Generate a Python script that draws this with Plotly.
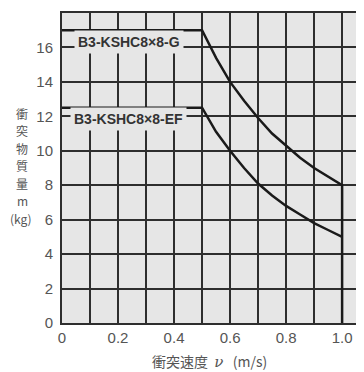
import plotly.graph_objects as go

# Data
g_v = [0.0, 0.5, 0.55, 0.6, 0.65, 0.7, 0.75, 0.8, 0.85, 0.9, 0.95, 1.0, 1.0]
g_m = [17.0, 17.0, 15.4, 14.0, 12.9, 11.9, 11.0, 10.3, 9.6, 9.0, 8.5, 8.0, 0.0]
ef_v = [0.0, 0.5, 0.55, 0.6, 0.65, 0.7, 0.75, 0.8, 0.85, 0.9, 0.95, 1.0]
ef_m = [12.5, 12.5, 11.1, 10.0, 9.0, 8.1, 7.4, 6.8, 6.3, 5.8, 5.4, 5.0]

x_ticks = [0, 0.2, 0.4, 0.6, 0.8, 1.0]
x_labels = ["0", "0.2", "0.4", "0.6", "0.8", "1.0"]
y_ticks = [0, 2, 4, 6, 8, 10, 12, 14, 16, 18]

label_g = "B3-KSHC8×8-G"
label_ef = "B3-KSHC8×8-EF"
y_title_chars = ["衝", "突", "物", "質", "量", "m", "(kg)"]
y_title_pos = [12.17, 11.15, 10.14, 9.12, 8.10, 7.09, 6.07]

BG = "#e6e6e6"
GRID = "#2e2e2e"
TXT = "#555555"
FONT = "Liberation Sans, Arial, sans-serif"
CJK = "Noto Sans CJK JP"

fig = go.Figure()
fig.add_trace(go.Scatter(x=g_v, y=g_m, mode="lines",
                         line=dict(color="#1a1a1a", width=2.5),
                         showlegend=False, hoverinfo="skip"))
fig.add_trace(go.Scatter(x=ef_v, y=ef_m, mode="lines",
                         line=dict(color="#1a1a1a", width=2.5),
                         showlegend=False, hoverinfo="skip"))

fig.add_annotation(x=0.239, y=16.3, text="<b>" + label_g + "</b>", showarrow=False,
                   font=dict(family=FONT, size=14, color="#333333"),
                   bgcolor=BG, borderpad=3, xanchor="center", yanchor="middle")
fig.add_annotation(x=0.238, y=11.85, text="<b>" + label_ef + "</b>", showarrow=False,
                   font=dict(family=FONT, size=14, color="#333333"),
                   bgcolor=BG, borderpad=3, xanchor="center", yanchor="middle")

fig.add_annotation(xref="paper", yref="paper", x=0.49, y=-0.1226,
                   text="衝突速度&nbsp;&nbsp;<i><span style='font-family:DejaVu Serif;font-size:15px'>ν</span></i>&nbsp;&nbsp;&nbsp;(m/s)",
                   showarrow=False, xanchor="center", yanchor="middle",
                   font=dict(family=CJK, size=14, color=TXT))
for ch, yy in zip(y_title_chars, y_title_pos):
    fig.add_annotation(xref="paper", yref="y", x=-0.132 if ch != "(kg)" else -0.138, y=yy,
                       text=ch, showarrow=False, xanchor="center", yanchor="middle",
                       font=dict(family=CJK, size=12, color=TXT))

fig.update_xaxes(range=[0, 1.071], tickvals=x_ticks, ticktext=x_labels,
                 showgrid=True, gridcolor=GRID, gridwidth=2,
                 minor=dict(dtick=0.1, showgrid=True, gridcolor=GRID, gridwidth=2),
                 zeroline=False, showline=True, linecolor=GRID, linewidth=2, mirror=True,
                 ticks="", tickfont=dict(family=FONT, size=15, color=TXT), fixedrange=True)
fig.update_yaxes(range=[0, 18], tickvals=y_ticks,
                 showgrid=True, gridcolor=GRID, gridwidth=2,
                 zeroline=False, showline=True, linecolor=GRID, linewidth=2, mirror=True,
                 ticks="", ticklabelstandoff=4,
                 tickfont=dict(family=FONT, size=15, color=TXT), fixedrange=True)

fig.update_layout(width=356, height=364, margin=dict(l=54, r=0, t=5, b=49),
                  plot_bgcolor=BG, paper_bgcolor="white", showlegend=False)

fig.write_html("out.html")
